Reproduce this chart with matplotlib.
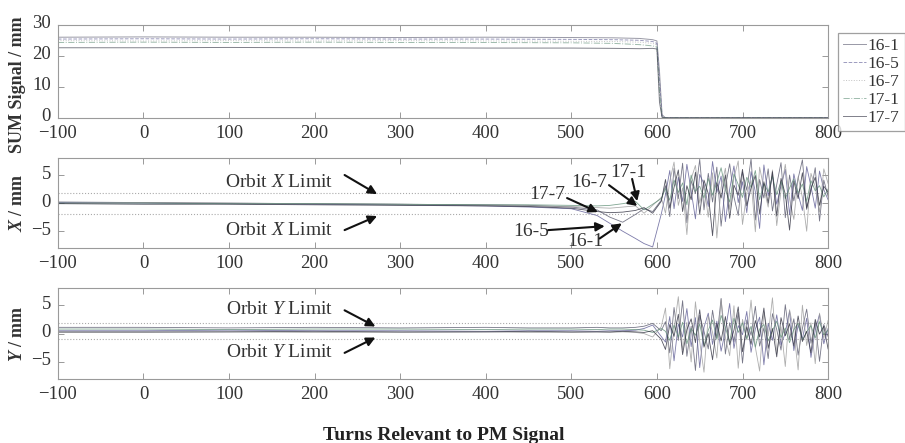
import matplotlib
matplotlib.use("Agg")
import matplotlib.pyplot as plt
from matplotlib.transforms import ScaledTranslation

plt.rcParams['font.family'] = ['Liberation Serif', 'DejaVu Serif']
plt.rcParams['mathtext.fontset'] = 'custom'
plt.rcParams['mathtext.it'] = 'Liberation Serif:italic'
plt.rcParams['mathtext.bf'] = 'Liberation Serif:italic:bold'
plt.rcParams['mathtext.rm'] = 'Liberation Serif'

names = ['16-1', '16-5', '16-7', '17-1', '17-7']
colors = ['#55556a', '#5c5a94', '#9a9a9a', '#5f8f76', '#2c2c3c']
styles = ['-', '--', ':', '-.', '-']

# SUM signal (mm) before beam loss
sum_turns = [-100, 0, 100, 200, 300, 400, 500, 550, 580, 595, 600, 603, 606, 610, 800]
sum_vals = {
    '16-1': [26.0, 26.1, 26.0, 26.0, 25.9, 26.0, 25.9, 25.8, 25.6, 25.2, 24.8, 15.0, 1.0, 0, 0],
    '16-5': [25.4, 25.5, 25.4, 25.5, 25.4, 25.4, 25.3, 25.2, 25.0, 24.6, 24.0, 12.0, 0.5, 0, 0],
    '16-7': [24.9, 24.8, 24.9, 24.8, 24.9, 24.8, 24.7, 24.6, 24.4, 24.0, 23.5, 10.0, 0.3, 0, 0],
    '17-1': [24.3, 24.4, 24.3, 24.4, 24.3, 24.3, 24.2, 24.0, 23.6, 23.2, 22.8, 8.0, 0.2, 0, 0],
    '17-7': [22.6, 22.6, 22.7, 22.6, 22.6, 22.5, 22.5, 22.4, 22.3, 22.4, 22.2, 5.0, 0.1, 0, 0],
}

pre_turns = [-100, 0, 100, 200, 300, 400, 450, 500, 530, 545, 560, 575, 585, 595, 605]
noise_turns = list(range(610, 801, 5))

x_pre = {
    '16-1': [0.2, 0.1, 0.0, -0.1, -0.2, -0.3, -0.4, -0.7, -1.2, -2.5, -3.4, -2.0, -1.0, -1.5, 0.5],
    '16-5': [0.1, 0.0, -0.1, -0.2, -0.3, -0.5, -0.7, -1.0, -2.2, -3.6, -5.0, -6.3, -7.2, -7.8, -2.0],
    '16-7': [0.0, 0.1, 0.0, -0.1, -0.2, -0.4, -0.5, -0.6, -0.8, -0.9, -0.7, -0.5, -1.8, -0.4, 1.0],
    '17-1': [0.0, 0.0, -0.1, -0.1, -0.2, -0.3, -0.3, -0.4, -0.5, -0.4, -0.1, 0.3, -1.2, -0.2, 0.8],
    '17-7': [-0.1, -0.2, -0.2, -0.3, -0.4, -0.5, -0.6, -0.9, -1.5, -1.7, -1.6, -1.3, -0.8, -1.8, 0.3],
}
x_noise = {
    '16-1': [3.1, -2.4, 6.2, 0.8, 7.1, -3.5, 4.0, 1.7, 7.8, -1.2,
             5.3, 0.2, 6.4, -4.1, 2.9, 7.0, 1.1, -2.2, 5.5, 2.3,
             7.9, -3.0, 4.2, 0.9, 6.1, -1.4, 3.3, 7.2, -2.6, 5.0,
             0.4, 4.4, 7.7, -0.8, 2.1, 6.3, -3.2, 4.1, 1.2],
    '16-5': [1.5, 5.8, -1.0, 4.6, 0.3, 6.9, 2.2, -2.8, 5.1, 3.4,
             -0.6, 7.4, 1.9, 4.8, -3.3, 2.5, 6.6, 0.1, 3.8, -1.7,
             5.6, 2.0, -4.5, 6.8, 1.3, 4.9, -0.2, 3.1, 6.0, -2.1,
             5.2, 1.6, -1.3, 6.5, 3.0, -0.9, 5.7, 2.4, 0.6],
    '16-7': [-1.8, 3.9, 7.3, -0.4, 2.7, -5.6, 4.3, 6.7, 0.0, 3.2,
             -2.5, 5.4, -6.2, 2.8, 6.2, -1.1, 4.5, 7.5, -3.8, 1.8,
             4.0, -5.1, 6.4, 2.6, -0.7, 5.9, -4.0, 2.2, 6.9, 0.7,
             -2.9, 4.7, 1.0, -5.0, 5.3, 2.9, -1.6, 6.1, 3.5],
    '17-1': [2.6, 0.5, 4.1, 1.9, 3.6, -0.3, 5.0, 2.1, 3.0, 0.9,
             4.4, 1.4, 3.7, 6.3, 2.4, 0.2, 5.2, 3.3, 1.0, 4.6,
             2.8, 5.8, 0.6, 3.5, 2.0, 4.8, 1.5, 3.9, 0.8, 2.7,
             4.3, 1.8, 3.4, 0.3, 4.0, 2.2, 3.1, 1.1, 2.5],
    '17-7': [4.2, -0.9, 2.8, 5.9, -1.5, 3.1, 0.6, 5.5, -2.0, 4.1,
             1.7, -5.8, 3.6, 0.9, 5.0, -2.7, 3.2, 1.4, 6.0, -0.5,
             2.7, 4.9, -1.9, 3.8, 0.0, 5.6, -2.3, 4.4, 1.6, -4.8,
             3.9, 0.8, 5.4, -1.1, 2.6, 4.6, -0.4, 3.0, 1.9],
}

y_pre = {
    '16-1': [1.1, 1.1, 1.0, 1.1, 1.0, 1.1, 1.0, 1.0, 1.1, 1.0, 1.0, 1.1, 1.3, 1.8, 0.5],
    '16-5': [0.5, 0.5, 0.6, 0.5, 0.5, 0.4, 0.5, 0.5, 0.4, 0.5, 0.5, 0.6, 0.9, 1.5, -0.5],
    '16-7': [0.2, 0.2, 0.3, 0.2, 0.2, 0.3, 0.2, 0.2, 0.3, 0.2, 0.3, 0.2, 0.0, -0.6, 1.2],
    '17-1': [0.8, 0.8, 0.7, 0.8, 0.8, 0.7, 0.8, 0.8, 0.7, 0.8, 0.8, 0.7, 0.6, 0.2, 0.9],
    '17-7': [0.3, 0.3, 0.3, 0.4, 0.3, 0.3, 0.4, 0.3, 0.3, 0.3, 0.4, 0.3, 0.2, 0.5, -1.0],
}
y_noise = {
    '16-1': [2.1, -3.4, 4.6, -1.2, 5.8, -4.0, 1.3, -6.5, 3.2, 0.4,
             -2.7, 4.1, -0.8, 6.2, -3.6, 1.9, -1.5, 3.7, -5.2, 2.4,
             -0.3, 4.8, -2.2, 1.0, -4.4, 3.5, 0.7, -2.9, 5.1, -1.0,
             2.6, -3.8, 0.9, 4.3, -1.7, 2.0, -4.9, 1.6, -0.5],
    '16-5': [-1.5, 3.0, -4.8, 1.7, -0.6, 4.4, -2.3, 2.8, -6.0, 1.1,
             3.6, -1.9, 2.2, -3.1, 0.5, 5.3, -2.6, 1.4, -0.2, 3.9,
             -3.3, 0.8, 2.9, -5.5, 1.8, -1.2, 3.3, -2.0, 0.1, 4.0,
             -3.0, 1.5, -0.9, 2.7, -4.2, 0.6, 3.4, -1.8, 0.9],
    '16-7': [4.5, -6.2, 0.9, 6.5, -2.9, 2.0, -5.0, 5.6, -1.4, -6.8,
             3.1, 0.2, -4.3, 6.0, -0.7, -3.9, 4.9, -6.1, 2.5, -1.1,
             5.9, -2.4, -6.6, 3.8, -0.4, 6.3, -3.5, 1.2, -5.8, 4.2,
             0.3, -6.4, 5.0, -2.1, 1.9, -5.3, 3.6, -0.8, 2.3],
    '17-1': [0.4, -1.2, 1.5, -0.6, 2.0, -1.8, 0.9, -0.3, 1.7, -2.1,
             0.6, 2.4, -1.0, 3.2, 1.1, -1.5, 2.7, 0.2, 1.9, -0.9,
             1.3, -2.4, 0.8, 1.6, -1.3, 0.5, 2.2, -0.7, 1.0, -1.6,
             0.7, 1.8, -1.1, 0.3, 1.4, -0.8, 2.1, -0.2, 0.6],
    '17-7': [-2.8, 1.6, -0.5, 3.4, -3.7, 0.7, 2.6, -1.6, 4.2, -2.4,
             0.0, -4.6, 1.8, -1.3, 3.0, -2.0, 0.6, 4.7, -3.2, 1.2,
             -1.9, 2.3, -0.6, 4.5, -2.6, 0.9, -4.1, 2.8, -0.4, 1.7,
             -2.2, 3.1, -1.4, 0.4, -3.4, 2.5, -0.1, 1.3, -2.7],
}

x_limits = [1.8, -2.0]
y_limits = [1.8, -0.9]
xticks = [-100, 0, 100, 200, 300, 400, 500, 600, 700, 800]

fig = plt.figure(figsize=(9.05, 4.43), dpi=100)
ax1 = fig.add_axes([0.064, 0.734, 0.851, 0.210])
ax2 = fig.add_axes([0.064, 0.440, 0.851, 0.203])
ax3 = fig.add_axes([0.064, 0.1445, 0.851, 0.205])

for ax in (ax1, ax2, ax3):
    ax.set_xlim(-100, 800)
    ax.set_xticks(xticks)
    ax.tick_params(direction='in', top=True, right=True, length=4, width=0.7,
                   color='#999999', labelsize=13.5, labelcolor='#333333', pad=5)
    for sp in ax.spines.values():
        sp.set_color('#9a9a9a')
        sp.set_linewidth(0.8)

# SUM panel
for i, n in enumerate(names):
    ax1.plot(sum_turns, sum_vals[n], color=colors[i], ls=styles[i], lw=0.7,
             alpha=0.6, label=n)
ax1.set_ylim(0, 30)
ax1.set_yticks([0, 10, 20, 30])
ax1.set_ylabel('SUM Signal / mm', fontsize=13, fontweight='bold', color='#333333')
ax1.yaxis.set_label_coords(-0.042, 0.36)

# X panel
for lim in x_limits:
    ax2.axhline(lim, color='#aaaaaa', ls=':', lw=0.8)
for i, n in enumerate(names):
    ax2.plot(pre_turns + noise_turns, x_pre[n] + x_noise[n], color=colors[i],
             ls='-', lw=0.6, alpha=0.8)
ax2.set_ylim(-8, 8)
ax2.set_yticks([-5, 0, 5])
ax2.set_ylabel(r'$\mathbf{X}$ / mm', fontsize=13, fontweight='bold', color='#333333')
ax2.yaxis.set_label_coords(-0.042, 0.5)

# Y panel
for lim in y_limits:
    ax3.axhline(lim, color='#aaaaaa', ls=':', lw=0.8)
for i, n in enumerate(names):
    ax3.plot(pre_turns + noise_turns, y_pre[n] + y_noise[n], color=colors[i],
             ls='-', lw=0.6, alpha=0.8)
ax3.set_ylim(-8, 8)
ax3.set_yticks([-5, 0, 5])
ax3.set_ylabel(r'$\mathbf{Y}$ / mm', fontsize=13, fontweight='bold', color='#333333')
ax3.yaxis.set_label_coords(-0.042, 0.5)

# lift y tick labels slightly, as in the reference
lift = ScaledTranslation(0, 3 / 100, fig.dpi_scale_trans)
for ax in (ax1, ax2, ax3):
    for lab in ax.get_yticklabels():
        lab.set_transform(lab.get_transform() + lift)

arrow = dict(arrowstyle='-|>', color='#111111', lw=1.5, mutation_scale=13,
             shrinkA=0, shrinkB=0)
tcol = '#333333'

# orbit limit labels: (axis, text position, arrow start, arrow tip)
orbit_notes = [
    (ax2, r'Orbit $X$ Limit', (221, 3.7), (235, 5.0), (273, 1.6)),
    (ax2, r'Orbit $X$ Limit', (221, -4.9), (235, -4.8), (273, -2.3)),
    (ax3, r'Orbit $Y$ Limit', (221, 4.3), (235, 4.1), (271, 1.25)),
    (ax3, r'Orbit $Y$ Limit', (221, -3.3), (235, -3.4), (271, -0.7)),
]
for ax, txt, tpos, start, tip in orbit_notes:
    ax.text(tpos[0], tpos[1], txt, fontsize=14, color=tcol, ha='right', va='center')
    ax.annotate('', xy=tip, xytext=start, arrowprops=arrow)

# BPM labels near the loss point
bpm_notes = [('17-7', (472, 1.6), (495, 0.9), (531, -1.6)),
             ('16-7', (521, 3.6), (544, 3.2), (577, -0.5)),
             ('17-1', (567, 5.4), (571, 4.3), (577, 0.35)),
             ('16-5', (453, -5.0), (473, -4.8), (539, -4.1)),
             ('16-1', (516, -6.9), (533, -6.3), (559, -3.6))]
for txt, tpos, start, tip in bpm_notes:
    ax2.text(tpos[0], tpos[1], txt, fontsize=14, color=tcol, ha='center', va='center')
    ax2.annotate('', xy=tip, xytext=start, arrowprops=arrow)

leg = fig.legend(*ax1.get_legend_handles_labels(), loc='upper left',
                 bbox_to_anchor=(838 / 905, 1 - 33 / 443), frameon=True,
                 fontsize=12.5, handlelength=1.3, handletextpad=0.1,
                 labelspacing=0.1, borderpad=0.3, borderaxespad=0, fancybox=False)
leg.get_frame().set_edgecolor('#888888')
leg.get_frame().set_linewidth(0.9)
for t in leg.get_texts():
    t.set_color('#333333')

fig.text(444 / 905, 1 - 435 / 443, 'Turns Relevant to PM Signal', fontsize=14,
         fontweight='bold', ha='center', va='center', color='#222222')

fig.savefig('out.png', dpi=100)
